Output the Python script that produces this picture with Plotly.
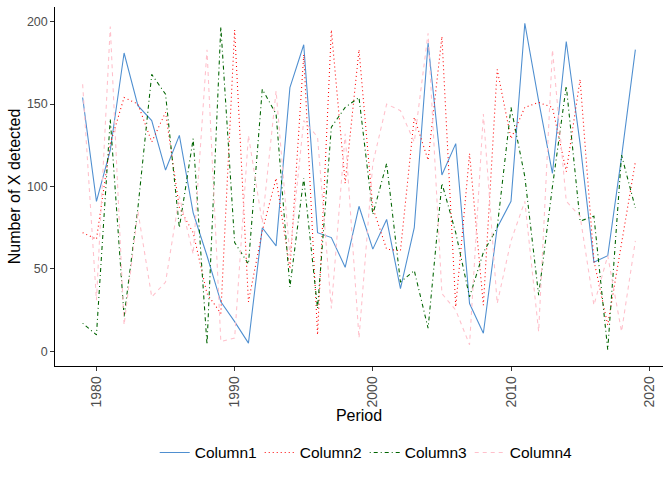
import plotly.graph_objects as go

years = list(range(1979, 2020))

column1 = [154, 91, 122, 181, 149, 140, 110, 131, 84, 58, 30, 18, 5, 75, 64, 160, 186, 72, 69, 51,
           88, 62, 80, 38, 75, 187, 107, 126, 29, 11, 75, 91, 199, 152, 108, 188, 126, 54, 58, 118, 183]
column2 = [72, 68, 126, 154, 150, 127, 145, 87, 72, 35, 23, 195, 30, 73, 105, 50, 180, 10, 195, 102,
           183, 87, 62, 61, 142, 116, 191, 27, 120, 28, 171, 129, 148, 151, 148, 109, 165, 55, 16, 65, 115]
column3 = [17, 10, 141, 21, 87, 168, 156, 75, 129, 4, 197, 66, 53, 159, 144, 39, 105, 26, 136, 148,
           154, 83, 114, 42, 49, 14, 102, 72, 33, 60, 75, 148, 106, 34, 100, 161, 79, 82, 1, 119, 87]
column4 = [162, 31, 197, 16, 85, 33, 42, 94, 59, 183, 6, 8, 131, 78, 158, 58, 140, 130, 26, 132,
           8, 114, 150, 146, 127, 193, 35, 25, 4, 144, 29, 67, 91, 12, 183, 91, 82, 28, 58, 12, 67]

series_names = ["Column1", "Column2", "Column3", "Column4"]
series_values = [column1, column2, column3, column4]
series_colors = ["#4F8FD0", "#FF0000", "#006400", "#FFC0CB"]
series_dash = ["solid", "1px,3px", "1px,3px,4px,3px", "4px,4px"]

x_ticks = [1980, 1990, 2000, 2010, 2020]
y_ticks = [0, 50, 100, 150, 200]

fig = go.Figure()
for name, vals, col, dash in zip(series_names, series_values, series_colors, series_dash):
    fig.add_trace(go.Scatter(x=years, y=vals, mode="lines", name=name,
                             line=dict(color=col, width=1.07, dash=dash)))

allv = column1 + column2 + column3 + column4
ymin, ymax = min(allv), max(allv)
yr = ymax - ymin
xmin, xmax = min(years), max(years)
xr = xmax - xmin

font_family = "Liberation Sans, Arial, sans-serif"

fig.update_layout(
    width=672, height=480,
    margin=dict(l=55, r=8.5, t=6.6, b=114),
    paper_bgcolor="white", plot_bgcolor="white",
    font=dict(family=font_family, color="black"),
    showlegend=True,
    legend=dict(orientation="h", x=0.164, xanchor="left", y=-0.242, yanchor="middle",
                font=dict(size=15.5, color="black"), entrywidth=60, entrywidthmode="pixels",
                bgcolor="rgba(0,0,0,0)"),
    xaxis=dict(range=[xmin - 0.05 * xr, xmax + 0.05 * xr], tickvals=x_ticks,
               ticktext=[str(v) for v in x_ticks], tickangle=-90,
               showgrid=False, zeroline=False, showline=True, linecolor="black", linewidth=1.07,
               ticks="outside", ticklen=3.7, tickwidth=1.07, tickcolor="#333333",
               tickfont=dict(size=14, color="#4D4D4D"),
               title=dict(text="Period", font=dict(size=16, color="black"), standoff=0)),
    yaxis=dict(range=[ymin - 0.05 * yr, ymax + 0.05 * yr], tickvals=y_ticks,
               showgrid=False, zeroline=False, showline=True, linecolor="black", linewidth=1.07,
               ticks="outside", ticklen=3.7, tickwidth=1.07, tickcolor="#333333",
               tickfont=dict(size=12.5, color="#4D4D4D"),
               title=dict(text="Number of X detected", font=dict(size=16, color="black"), standoff=2)),
)

fig.write_html("out.html")
